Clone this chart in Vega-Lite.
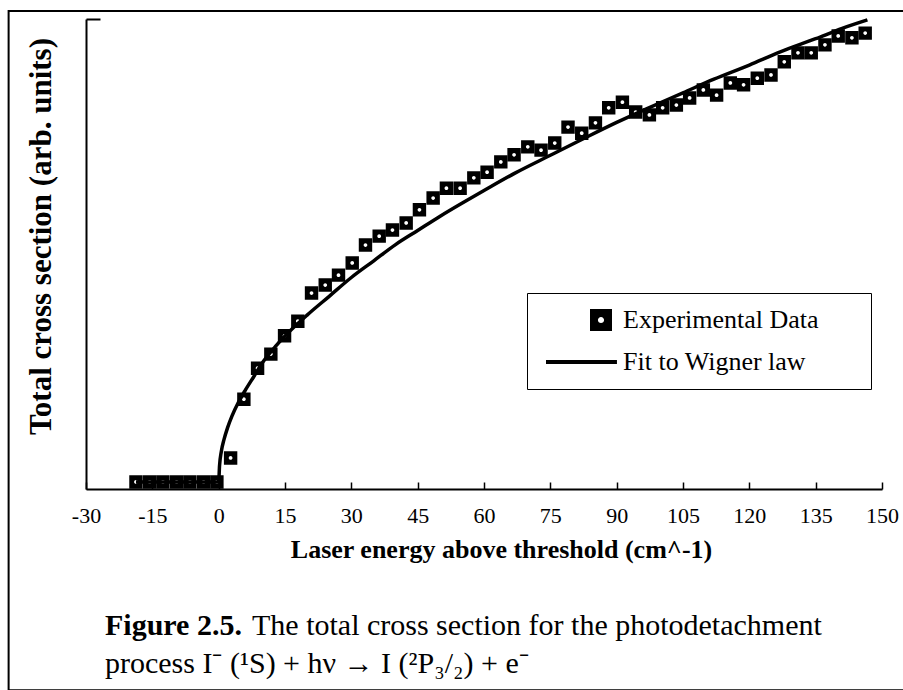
{
  "$schema": "https://vega.github.io/schema/vega-lite/v6.json",
  "width": 796,
  "height": 470,
  "autosize": "none",
  "padding": {"left": 86, "top": 19, "right": 21, "bottom": 201},
  "background": "white",
  "config": {"view": {"stroke": null}, "font": "Liberation Serif"},
  "title": {
    "text": "Figure 2.5.",
    "subtitle": ["\u2800\u2800\u2800\u2800\u2800\u2800\u00a0\u00a0The total cross section for the photodetachment", "process I\u207b (\u00b9S) + h\u03bd \u2192 I (\u00b2P\u2083/\u2082) + e\u207b"],
    "orient": "bottom",
    "anchor": "start",
    "frame": "group",
    "align": "left",
    "dx": 19,
    "offset": -80,
    "font": "Liberation Serif",
    "fontSize": 30,
    "fontWeight": "bold",
    "color": "black",
    "subtitleFont": "Liberation Serif",
    "subtitleFontSize": 30,
    "subtitleFontWeight": "normal",
    "subtitleColor": "black",
    "subtitleLineHeight": 38,
    "subtitlePadding": -30
  },
  "datasets": {
    "experimental": [
      {"x": -18.7, "y": 1.5, "series": "Experimental Data"},
      {"x": -15.6, "y": 1.5, "series": "Experimental Data"},
      {"x": -12.6, "y": 1.5, "series": "Experimental Data"},
      {"x": -9.5, "y": 1.5, "series": "Experimental Data"},
      {"x": -6.5, "y": 1.5, "series": "Experimental Data"},
      {"x": -3.4, "y": 1.5, "series": "Experimental Data"},
      {"x": -0.4, "y": 1.5, "series": "Experimental Data"},
      {"x": 2.7, "y": 6.6, "series": "Experimental Data"},
      {"x": 5.7, "y": 19.1, "series": "Experimental Data"},
      {"x": 8.8, "y": 25.7, "series": "Experimental Data"},
      {"x": 11.8, "y": 28.7, "series": "Experimental Data"},
      {"x": 14.9, "y": 32.6, "series": "Experimental Data"},
      {"x": 17.9, "y": 35.7, "series": "Experimental Data"},
      {"x": 21.0, "y": 41.7, "series": "Experimental Data"},
      {"x": 24.1, "y": 43.4, "series": "Experimental Data"},
      {"x": 27.1, "y": 45.5, "series": "Experimental Data"},
      {"x": 30.2, "y": 48.1, "series": "Experimental Data"},
      {"x": 33.2, "y": 51.9, "series": "Experimental Data"},
      {"x": 36.3, "y": 53.8, "series": "Experimental Data"},
      {"x": 39.3, "y": 55.1, "series": "Experimental Data"},
      {"x": 42.4, "y": 56.6, "series": "Experimental Data"},
      {"x": 45.4, "y": 59.4, "series": "Experimental Data"},
      {"x": 48.5, "y": 61.9, "series": "Experimental Data"},
      {"x": 51.5, "y": 64.0, "series": "Experimental Data"},
      {"x": 54.6, "y": 64.0, "series": "Experimental Data"},
      {"x": 57.7, "y": 66.2, "series": "Experimental Data"},
      {"x": 60.7, "y": 67.4, "series": "Experimental Data"},
      {"x": 63.8, "y": 69.6, "series": "Experimental Data"},
      {"x": 66.8, "y": 71.1, "series": "Experimental Data"},
      {"x": 69.9, "y": 72.8, "series": "Experimental Data"},
      {"x": 72.9, "y": 72.1, "series": "Experimental Data"},
      {"x": 76.0, "y": 73.6, "series": "Experimental Data"},
      {"x": 79.0, "y": 77.0, "series": "Experimental Data"},
      {"x": 82.1, "y": 75.7, "series": "Experimental Data"},
      {"x": 85.2, "y": 77.9, "series": "Experimental Data"},
      {"x": 88.2, "y": 81.1, "series": "Experimental Data"},
      {"x": 91.3, "y": 82.3, "series": "Experimental Data"},
      {"x": 94.3, "y": 80.2, "series": "Experimental Data"},
      {"x": 97.4, "y": 79.6, "series": "Experimental Data"},
      {"x": 100.4, "y": 81.1, "series": "Experimental Data"},
      {"x": 103.5, "y": 81.7, "series": "Experimental Data"},
      {"x": 106.5, "y": 83.2, "series": "Experimental Data"},
      {"x": 109.6, "y": 84.9, "series": "Experimental Data"},
      {"x": 112.6, "y": 83.8, "series": "Experimental Data"},
      {"x": 115.7, "y": 86.4, "series": "Experimental Data"},
      {"x": 118.7, "y": 86.0, "series": "Experimental Data"},
      {"x": 121.8, "y": 87.4, "series": "Experimental Data"},
      {"x": 124.9, "y": 88.1, "series": "Experimental Data"},
      {"x": 127.9, "y": 90.9, "series": "Experimental Data"},
      {"x": 131.0, "y": 92.8, "series": "Experimental Data"},
      {"x": 134.0, "y": 92.8, "series": "Experimental Data"},
      {"x": 137.1, "y": 94.5, "series": "Experimental Data"},
      {"x": 140.1, "y": 96.4, "series": "Experimental Data"},
      {"x": 143.2, "y": 96.0, "series": "Experimental Data"},
      {"x": 146.2, "y": 97.0, "series": "Experimental Data"}
    ],
    "fit": [
      {"x": -18.7, "y": 1.5},
      {"x": 0.0, "y": 1.5},
      {"x": 0.2, "y": 5.0},
      {"x": 0.6, "y": 8.0},
      {"x": 1.2, "y": 10.5},
      {"x": 2.0, "y": 13.0},
      {"x": 3.0, "y": 15.5},
      {"x": 4.5, "y": 18.5},
      {"x": 6.0, "y": 21.0},
      {"x": 8.0, "y": 24.0},
      {"x": 10.0, "y": 27.0},
      {"x": 13.0, "y": 30.5},
      {"x": 16.0, "y": 33.5},
      {"x": 20.0, "y": 37.0},
      {"x": 25.0, "y": 41.0},
      {"x": 30.0, "y": 45.0},
      {"x": 35.0, "y": 48.5},
      {"x": 40.0, "y": 52.0},
      {"x": 45.0, "y": 55.0},
      {"x": 50.0, "y": 58.0},
      {"x": 55.0, "y": 60.8},
      {"x": 60.0, "y": 63.5},
      {"x": 67.0, "y": 67.2},
      {"x": 75.0, "y": 71.0},
      {"x": 82.0, "y": 74.3},
      {"x": 90.0, "y": 78.0},
      {"x": 97.0, "y": 81.0},
      {"x": 105.0, "y": 84.3},
      {"x": 112.0, "y": 87.2},
      {"x": 120.0, "y": 90.2},
      {"x": 127.0, "y": 93.0},
      {"x": 135.0, "y": 95.8},
      {"x": 141.0, "y": 98.0},
      {"x": 146.7, "y": 99.8}
    ],
    "frame": [{"left": -47.5, "right": 160, "top": 101.7, "bottom": -42.8}]
  },
  "layer": [
    {
      "data": {"name": "frame"},
      "mark": {"type": "rect", "fill": null, "stroke": "black", "strokeWidth": 2, "clip": false},
      "encoding": {
        "x": {"field": "left", "type": "quantitative", "scale": {"domain": [-30, 150], "nice": false, "zero": false}},
        "x2": {"field": "right"},
        "y": {"field": "top", "type": "quantitative", "scale": {"domain": [0, 100], "nice": false, "zero": false}},
        "y2": {"field": "bottom"}
      }
    },
    {
      "data": {"name": "fit"},
      "mark": {"type": "line", "color": "black", "strokeWidth": 3.5, "interpolate": "monotone"},
      "encoding": {
        "x": {
          "field": "x", "type": "quantitative",
          "scale": {"domain": [-30, 150], "nice": false, "zero": false},
          "axis": {
            "values": [-30, -15, 0, 15, 30, 45, 60, 75, 90, 105, 120, 135, 150],
            "labelExpr": "datum.value < 0 ? '-' + abs(datum.value) : '' + datum.value",
            "title": "Laser energy above threshold (cm^-1)",
            "titleFont": "Liberation Serif", "titleFontSize": 26, "titleFontWeight": "bold", "titleColor": "black",
            "titleX": 415, "titleY": 68, "titleBaseline": "alphabetic", "titleAlign": "center",
            "labelFont": "Liberation Serif", "labelFontSize": 22, "labelColor": "black",
            "labelFlush": false, "labelOverlap": false, "labelBound": false, "labelPadding": 23,
            "tickSize": -7, "tickWidth": 1.5, "tickColor": "black",
            "domainColor": "black", "domainWidth": 2, "grid": false
          }
        },
        "y": {
          "field": "y", "type": "quantitative",
          "scale": {"domain": [0, 100], "nice": false, "zero": false},
          "axis": {
            "values": [100], "labels": false,
            "title": "Total cross section (arb. units)",
            "titleFont": "Liberation Serif", "titleFontSize": 31, "titleFontWeight": "bold", "titleColor": "black",
            "titleX": -36, "titleY": 217, "titleAngle": 270, "titleBaseline": "alphabetic", "titleAlign": "center",
            "tickSize": -14, "tickWidth": 2, "tickColor": "black",
            "domainColor": "black", "domainWidth": 2, "grid": false
          }
        }
      }
    },
    {
      "data": {"name": "experimental"},
      "mark": {"type": "point", "filled": true, "color": "black", "opacity": 1, "size": 180},
      "encoding": {
        "x": {"field": "x", "type": "quantitative"},
        "y": {"field": "y", "type": "quantitative"},
        "shape": {
          "field": "series", "type": "nominal",
          "scale": {
            "domain": ["Experimental Data", "Fit to Wigner law"],
            "range": ["M-1,-1H1V1H-1Z M0.28,0A0.28,0.28 0 1 0 -0.28,0A0.28,0.28 0 1 0 0.28,0Z", "M-5,-0.18H1.45V0.18H-5Z"]
          },
          "legend": {
            "orient": "none", "legendX": 441, "legendY": 274,
            "title": null,
            "strokeColor": "black", "fillColor": "white",
            "padding": 14,
            "symbolSize": 484, "symbolOffset": 47, "symbolStrokeWidth": 0, "symbolFillColor": "black", "symbolOpacity": 1,
            "labelOffset": 9, "labelFont": "Liberation Serif", "labelFontSize": 26, "labelColor": "black", "labelLimit": 0,
            "rowPadding": 16,
            "labelExpr": "datum.label + '\u2800\u2800'"
          }
        }
      }
    }
  ]
}
